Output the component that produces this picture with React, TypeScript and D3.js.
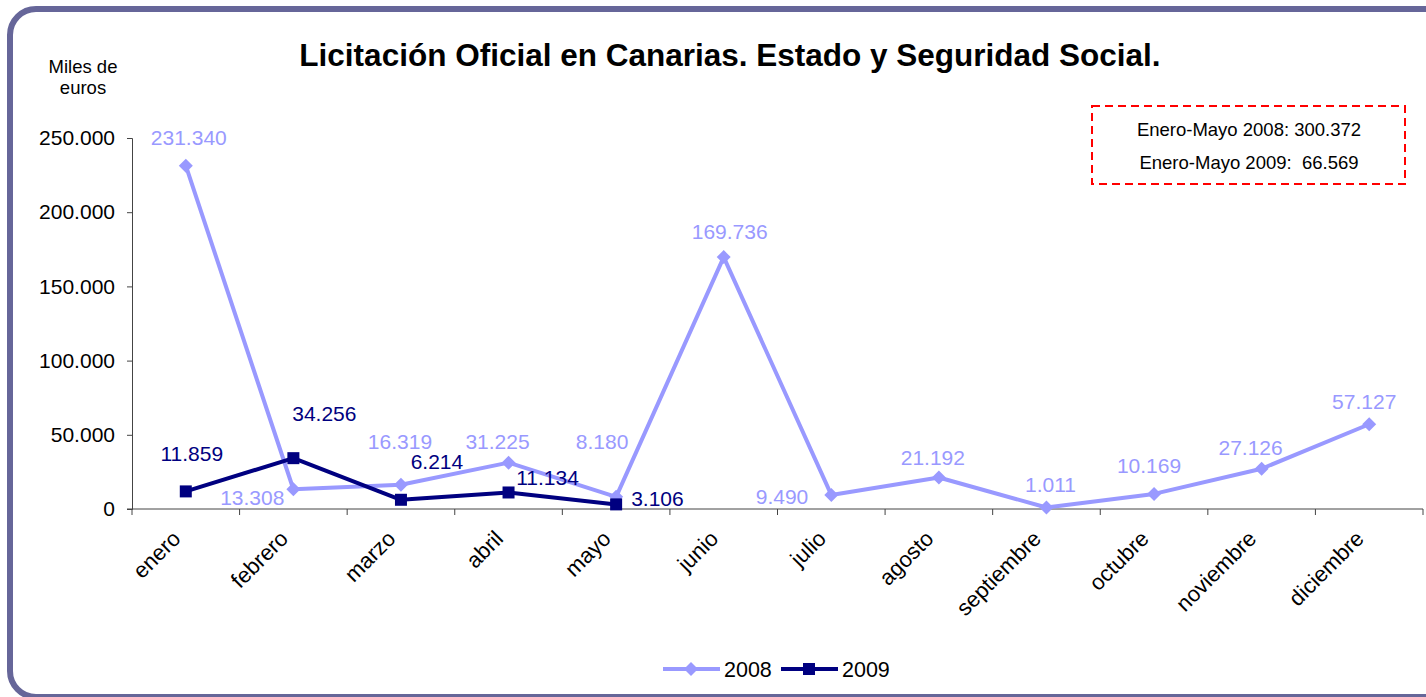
import React, { useEffect, useRef } from 'react';
import * as d3 from 'd3';

const months = ['enero', 'febrero', 'marzo', 'abril', 'mayo', 'junio', 'julio', 'agosto', 'septiembre', 'octubre', 'noviembre', 'diciembre'];
const values2008 = [231340, 13308, 16319, 31225, 8180, 169736, 9490, 21192, 1011, 10169, 27126, 57127];
const values2009 = [11859, 34256, 6214, 11134, 3106];
const yTicks = [0, 50000, 100000, 150000, 200000, 250000];
const summaryLines = ['Enero-Mayo 2008: 300.372', 'Enero-Mayo 2009:  66.569'];

// label placement relative to the point (dx, dy, anchor), hand-placed like in the original
const offsets2008: [number, number, string][] = [
  [3, -28, 'middle'], [-9, 8, 'end'], [-1, -43, 'middle'], [-11, -21, 'middle'], [-14, -55, 'middle'], [6, -25, 'middle'],
  [-23, 2, 'end'], [-6, -20, 'middle'], [4, -23, 'middle'], [-5, -28, 'middle'], [-11, -21, 'middle'], [-5, -23, 'middle'],
];
const offsets2009: [number, number, string][] = [
  [6, -38, 'middle'], [31, -45, 'middle'], [36, -38, 'middle'], [39, -15, 'middle'], [15, -6, 'start'],
];

const C2008 = '#9999FF';
const C2009 = '#000080';
const FONT = "'Liberation Sans', Arial, sans-serif";

const locale = d3.formatLocale({ decimal: ',', thousands: '.', grouping: [3], currency: ['', '€'] });
const fmt = locale.format(',d');

const App: React.FC = () => {
  const svgRef = useRef<SVGSVGElement>(null);

  useEffect(() => {
    const svg = d3.select(svgRef.current);
    svg.selectAll('*').remove();

    const x = d3.scaleBand<string>().domain(months).range([132, 1423]);
    const y = d3.scaleLinear().domain([0, 250000]).range([509, 138]);
    const cx = (m: string) => (x(m) || 0) + x.bandwidth() / 2;

    // frame
    svg.append('rect')
      .attr('x', 10).attr('y', 9).attr('width', 1440).attr('height', 688)
      .attr('rx', 26)
      .attr('fill', 'white')
      .attr('stroke', '#666699')
      .attr('stroke-width', 6);

    // title
    svg.append('text')
      .attr('x', 730).attr('y', 66)
      .attr('text-anchor', 'middle')
      .attr('font-family', FONT).attr('font-size', 31.5).attr('font-weight', 'bold')
      .text('Licitación Oficial en Canarias. Estado y Seguridad Social.');

    // unit label
    ['Miles de', 'euros'].forEach((t, i) => {
      svg.append('text')
        .attr('x', 83).attr('y', 73 + i * 21)
        .attr('text-anchor', 'middle')
        .attr('font-family', FONT).attr('font-size', 18.5)
        .text(t);
    });

    // y axis
    const ya = svg.append('g').attr('transform', 'translate(132,0)')
      .call(d3.axisLeft(y).tickValues(yTicks).tickSize(5).tickPadding(12).tickFormat(d => fmt(d as number)));
    ya.selectAll('text').attr('font-family', FONT).attr('font-size', 21).attr('fill', 'black');

    // x axis
    const xa = svg.append('g').attr('transform', 'translate(0,509)')
      .call(d3.axisBottom(x).tickSize(0).tickFormat(() => ''));
    xa.select('.domain').attr('d', 'M127,0H1423');
    svg.append('g').selectAll('line')
      .data(d3.range(months.length + 1))
      .enter().append('line')
      .attr('x1', i => 132 + i * x.step()).attr('x2', i => 132 + i * x.step())
      .attr('y1', 509).attr('y2', 515)
      .attr('stroke', '#444');
    svg.selectAll('.domain, .tick line').attr('stroke', '#444');

    svg.append('g').selectAll('text')
      .data(months)
      .enter().append('text')
      .attr('transform', m => `translate(${cx(m) - 4},${540}) rotate(-45)`)
      .attr('text-anchor', 'end')
      .attr('font-family', FONT).attr('font-size', 22)
      .text(m => m);

    // 2008 series
    const pts2008 = values2008.map((v, i) => [cx(months[i]), y(v)] as [number, number]);
    svg.append('path')
      .attr('d', d3.line()(pts2008) || '')
      .attr('fill', 'none').attr('stroke', C2008).attr('stroke-width', 4).attr('stroke-linejoin', 'round');
    svg.append('g').selectAll('path')
      .data(pts2008).enter().append('path')
      .attr('transform', p => `translate(${p[0]},${p[1]})`)
      .attr('d', 'M0,-7L7,0L0,7L-7,0Z')
      .attr('fill', C2008);

    // 2009 series
    const pts2009 = values2009.map((v, i) => [cx(months[i]), y(v)] as [number, number]);
    svg.append('path')
      .attr('d', d3.line()(pts2009) || '')
      .attr('fill', 'none').attr('stroke', C2009).attr('stroke-width', 4).attr('stroke-linejoin', 'round');
    svg.append('g').selectAll('rect')
      .data(pts2009).enter().append('rect')
      .attr('x', p => p[0] - 6).attr('y', p => p[1] - 6)
      .attr('width', 12).attr('height', 12)
      .attr('fill', C2009);

    // data labels
    const labels = (vals: number[], offs: [number, number, string][], color: string) => {
      svg.append('g').selectAll('text')
        .data(vals).enter().append('text')
        .attr('x', (v, i) => cx(months[i]) + offs[i][0])
        .attr('y', (v, i) => y(v) + offs[i][1])
        .attr('dy', '0.35em')
        .attr('text-anchor', (v, i) => offs[i][2])
        .attr('font-family', FONT).attr('font-size', 21)
        .attr('fill', color)
        .text(v => fmt(v));
    };
    labels(values2008, offsets2008, C2008);
    labels(values2009, offsets2009, C2009);

    // summary box
    svg.append('rect')
      .attr('x', 1092).attr('y', 106).attr('width', 313).attr('height', 78)
      .attr('fill', 'none').attr('stroke', '#FF0000').attr('stroke-width', 2)
      .attr('stroke-dasharray', '8,5');
    summaryLines.forEach((t, i) => {
      svg.append('text')
        .attr('x', 1249).attr('y', 136 + i * 33)
        .attr('text-anchor', 'middle')
        .attr('font-family', FONT).attr('font-size', 18.5)
        .style('white-space', 'pre')
        .text(t);
    });

    // legend
    const legend = [
      { name: '2008', color: C2008, x: 663, marker: 'diamond' },
      { name: '2009', color: C2009, x: 781, marker: 'square' },
    ];
    legend.forEach(l => {
      const g = svg.append('g').attr('transform', `translate(${l.x},669)`);
      g.append('line').attr('x1', 0).attr('x2', 57).attr('y1', 0).attr('y2', 0)
        .attr('stroke', l.color).attr('stroke-width', 4);
      if (l.marker === 'diamond') {
        g.append('path').attr('d', 'M28,-7L35,0L28,7L21,0Z').attr('fill', l.color);
      } else {
        g.append('rect').attr('x', 22).attr('y', -6).attr('width', 12).attr('height', 12).attr('fill', l.color);
      }
      g.append('text').attr('x', 61).attr('y', 0).attr('dy', '0.35em')
        .attr('font-family', FONT).attr('font-size', 21.5)
        .text(l.name);
    });
  }, []);

  return (
    <svg ref={svgRef} width={1426} height={697}
      style={{ position: 'absolute', left: 0, top: 0, display: 'block', background: 'white' }} />
  );
};

export default App;
